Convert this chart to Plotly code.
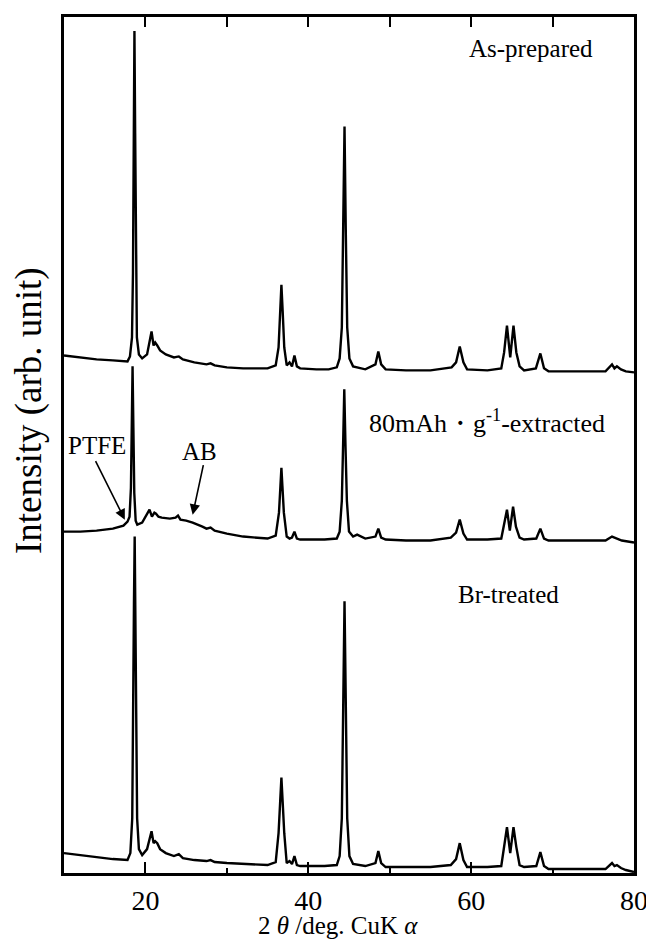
import plotly.graph_objects as go

# ---------------- data (2theta in deg, intensity in arb. unit above each trace's offset) -------------
x_asprep = [10, 12, 14, 16, 17.8, 18.1, 18.35, 18.47, 18.56, 18.65, 18.74, 18.83, 18.95, 19.2, 19.6,
            20.2, 20.5, 20.75, 21.0, 21.2, 21.45, 21.8, 22.5, 23.5, 24.1, 24.6, 26, 27.5, 28, 28.5,
            30, 32, 35, 36.0, 36.35, 36.55, 36.7, 36.85, 37.05, 37.35, 37.7, 38.0, 38.3, 38.6, 39,
            41, 42.5, 43.5, 43.85, 44.12, 44.3, 44.45, 44.6, 44.78, 45.05, 45.5, 47, 48.25, 48.6, 48.95,
            49.5, 52, 55, 57, 57.6, 58.15, 58.6, 59.05, 59.5, 62, 63.7, 64.05, 64.4, 64.8, 65.2, 65.55,
            65.95, 66.5, 67.95, 68.5, 68.95, 69.5, 72, 76.5, 77.3, 77.6, 77.9, 78.4, 79, 80]
y_asprep = [17, 15, 13, 12, 11, 16, 35, 100, 240, 343, 240, 100, 35, 18, 14,
            18, 30, 41, 27, 30, 27, 22, 18, 15, 16, 13, 10, 8, 9, 7,
            5, 4, 4, 7, 25, 62, 88, 62, 25, 7, 10, 6, 17, 6, 4,
            3, 3, 5, 14, 45, 145, 247, 145, 45, 14, 6, 3, 8, 21, 8,
            3, 2, 2, 4, 5, 10, 26, 10, 3, 2, 4, 20, 47, 15, 47, 20,
            6, 2, 4, 19, 4, 1, 1, 1, 8, 4, 6, 3, 1, 0]

x_extr = [10, 12, 14, 16, 17.3, 17.8, 18.05, 18.22, 18.32, 18.42, 18.52, 18.63, 18.8, 19.0, 19.6,
          20.2, 20.5, 20.8, 21.1, 21.3, 21.6, 22.0, 23.0, 23.7, 24.0, 24.3, 25.0, 25.8, 26.5, 27.0,
          27.5, 28, 28.5, 30, 32, 35, 36.0, 36.4, 36.58, 36.7, 36.82, 37.0, 37.35, 37.7, 38.0,
          38.3, 38.6, 39, 42, 43.5, 43.85, 44.12, 44.28, 44.42, 44.56, 44.74, 45.0, 45.5, 46, 47,
          48.25, 48.6, 48.95, 49.5, 52, 55, 57.5, 58.15, 58.6, 59.05, 59.5, 62, 63.7, 64.05, 64.4,
          64.75, 65.15, 65.5, 65.95, 66.5, 68.0, 68.5, 68.95, 69.5, 72, 76.5, 77.3, 77.8, 78.5, 80]
y_extr = [11, 11, 12, 14, 17, 21, 26, 55, 115, 177, 115, 50, 22, 18, 20,
          28, 33, 26, 30, 29, 26, 25, 24, 25, 27, 23, 22, 20, 18, 16,
          14, 15, 12, 9, 6, 4, 7, 30, 57, 75, 57, 30, 6, 4, 5,
          11, 4, 3, 3, 4, 11, 42, 100, 154, 100, 42, 11, 6, 8, 4,
          6, 14, 5, 3, 2, 2, 5, 10, 23, 9, 3, 3, 4, 18, 33,
          12, 36, 16, 5, 3, 4, 14, 4, 2, 2, 2, 6, 4, 2, 0]

x_br = [10, 12, 14, 16, 17.8, 18.15, 18.38, 18.5, 18.59, 18.68, 18.77, 18.86, 18.98, 19.2, 19.6,
        20.2, 20.5, 20.75, 21.0, 21.2, 21.45, 21.8, 22.5, 23.5, 24.1, 24.6, 26, 27.5, 28, 28.5,
        30, 32, 35, 36.0, 36.35, 36.55, 36.7, 36.85, 37.05, 37.35, 37.7, 38.0, 38.3, 38.6, 39,
        42, 43.5, 43.85, 44.12, 44.3, 44.45, 44.6, 44.78, 45.05, 45.5, 47, 48.25, 48.6, 48.95, 49.5,
        52, 55, 57.5, 58.15, 58.6, 59.05, 59.5, 62, 63.7, 64.05, 64.4, 64.8, 65.2, 65.55, 65.95,
        66.5, 68.0, 68.5, 68.95, 69.5, 72, 76.5, 77.3, 77.6, 77.9, 78.4, 79, 80]
y_br = [20, 18, 16, 14, 13, 20, 55, 140, 270, 338, 270, 140, 55, 24, 18,
        24, 35, 42, 30, 32, 30, 24, 20, 17, 19, 15, 13, 12, 13, 11,
        10, 9, 8, 11, 40, 72, 96, 72, 40, 10, 12, 9, 17, 8, 7,
        7, 8, 17, 55, 175, 273, 175, 55, 17, 9, 7, 10, 22, 10, 6,
        6, 6, 8, 14, 30, 13, 6, 6, 7, 28, 46, 20, 46, 26, 8,
        6, 7, 21, 7, 4, 4, 4, 10, 7, 8, 5, 3, 1]

sample_names = ["As-prepared", "80mAh・g<sup>-1</sup>-extracted", "Br-treated"]
stack_offsets = [503, 332, 0]
x_ticks_major = [20, 40, 60, 80]
x_tick_labels = ["20", "40", "60", "80"]
x_ticks_minor = [30, 50, 70]
x_ticks_top = [20, 30, 40, 50, 60, 70]

FONT = "Liberation Serif, Times New Roman, serif"

fig = go.Figure()
for xs, ys, off, name in zip([x_asprep, x_extr, x_br], [y_asprep, y_extr, y_br],
                             stack_offsets, sample_names):
    fig.add_trace(go.Scatter(x=xs, y=[v + off for v in ys], mode="lines",
                             line=dict(color="black", width=2.4), name=name,
                             showlegend=False, hoverinfo="skip"))

# invisible trace on top axis to carry the top ticks
fig.add_trace(go.Scatter(x=[10, 80], y=[0, 0], xaxis="x2", mode="lines",
                         line=dict(width=0), showlegend=False, hoverinfo="skip"))

# the page body adds an 8 px margin, so the figure is 8 px smaller each way
fig.update_layout(
    width=646, height=932,
    margin=dict(l=56, r=17, t=6, b=67),
    paper_bgcolor="white", plot_bgcolor="white",
    font=dict(family=FONT, color="black"),
    xaxis=dict(range=[10, 80], showline=True, linewidth=3, linecolor="black", mirror=True,
               ticks="inside", tickvals=x_ticks_major, ticktext=x_tick_labels,
               ticklen=11, tickwidth=1.5, tickcolor="black", ticklabelstandoff=0,
               minor=dict(tickvals=x_ticks_minor, ticks="inside", ticklen=5, tickwidth=1.5,
                          tickcolor="black"),
               tickfont=dict(size=28, family=FONT), showgrid=False, zeroline=False),
    xaxis2=dict(range=[10, 80], overlaying="x", side="top", showline=False,
                ticks="inside", tickvals=x_ticks_top, ticklen=10, tickwidth=1.5,
                tickcolor="black", showticklabels=False, showgrid=False, zeroline=False),
    yaxis=dict(range=[0, 860], showline=True, linewidth=3, linecolor="black", mirror=True,
               showticklabels=False, ticks="", showgrid=False, zeroline=False),
)

# axis titles
fig.add_annotation(xref="paper", yref="paper", x=0.48, y=-0.061, yanchor="middle",
                   text="2 <i>θ</i> /deg. CuK <i>α</i>", showarrow=False,
                   font=dict(size=25, family=FONT, color="black"))
fig.add_annotation(xref="paper", yref="paper", x=-0.061, y=0.54, xanchor="center",
                   yanchor="middle", textangle=-90,
                   text="Intensity (arb. unit)", showarrow=False,
                   font=dict(size=37, family=FONT, color="black"))

label_pos = [(67.3, 828), (62.0, 454), (64.6, 280)]
for (lx, ly), name, fs in zip(label_pos, sample_names, [25, 26, 25]):
    fig.add_annotation(x=lx, y=ly, text=name, showarrow=False,
                       font=dict(size=fs, family=FONT, color="black"))

fig.add_annotation(x=17.47, y=355, ax=-30, ay=-60, text="", showarrow=True,
                   arrowhead=2, arrowsize=1.3, arrowwidth=1.6, arrowcolor="black")
fig.add_annotation(x=25.8, y=360, ax=11, ay=-51, text="", showarrow=True,
                   arrowhead=2, arrowsize=1.3, arrowwidth=1.6, arrowcolor="black")
fig.add_annotation(x=14.1, y=430, text="PTFE", showarrow=False,
                   font=dict(size=25, family=FONT, color="black"))
fig.add_annotation(x=26.6, y=423, text="AB", showarrow=False,
                   font=dict(size=25, family=FONT, color="black"))

fig.write_html("out.html")
